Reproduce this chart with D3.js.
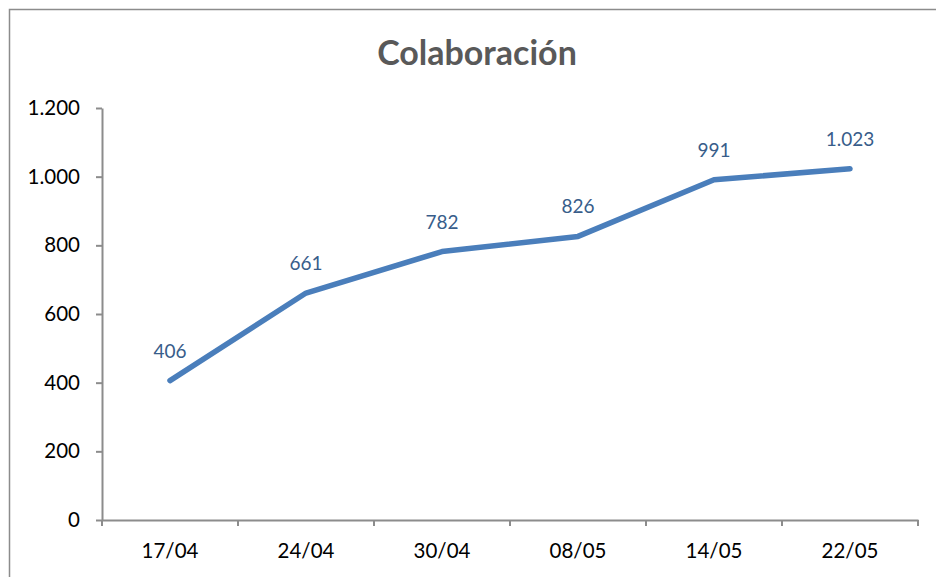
<!DOCTYPE html>
<html>
<head>
<meta charset="utf-8">
<script src="https://cdn.jsdelivr.net/npm/d3@7"></script>
<style>
  body { margin: 0; background: #fff; }
  svg { display: block; font-family: Lato, "Open Sans", sans-serif; }
</style>
</head>
<body>
<div id="chart"></div>
<script>
// Colaboración line chart
const categories = ["17/04", "24/04", "30/04", "08/05", "14/05", "22/05"];
const values = [406, 661, 782, 826, 991, 1023];
const yTicks = [0, 200, 400, 600, 800, 1000, 1200];

const width = 936, height = 577;
const margin = {top: 108, right: 18, bottom: 57, left: 102};

const fmt = d3.formatLocale({decimal: ",", thousands: ".", grouping: [3], currency: ["", "€"]}).format(",d");

const svg = d3.select("#chart").append("svg")
  .attr("width", width)
  .attr("height", height);

// outer frame
svg.append("rect")
  .attr("x", 9.5).attr("y", 9.5)
  .attr("width", 1000).attr("height", 1000)
  .attr("fill", "none")
  .attr("stroke", "#8c8c8c")
  .attr("stroke-width", 1.5);

const x = d3.scaleBand()
  .domain(categories)
  .range([margin.left, width - margin.right]);

const y = d3.scaleLinear()
  .domain([0, 1200])
  .range([height - margin.bottom, margin.top]);

// title
svg.append("text")
  .attr("x", 477).attr("y", 65)
  .attr("text-anchor", "middle")
  .attr("font-size", 34)
  .attr("font-weight", "bold")
  .attr("fill", "#595959")
  .text("Colaboración");

// y axis
const yAxis = svg.append("g")
  .attr("transform", `translate(${margin.left},0)`)
  .call(d3.axisLeft(y).tickValues(yTicks).tickFormat(fmt).tickSize(6).tickSizeOuter(0));

// x axis with ticks on band edges
const xAxis = svg.append("g")
  .attr("transform", `translate(0,${height - margin.bottom})`)
  .call(d3.axisBottom(x).tickSize(0).tickSizeOuter(0));

xAxis.selectAll(".edge")
  .data(categories.concat(["end"]))
  .join("line")
  .attr("class", "edge")
  .attr("x1", (d, i) => i < categories.length ? x(d) : x.range()[1])
  .attr("x2", (d, i) => i < categories.length ? x(d) : x.range()[1])
  .attr("y1", 0).attr("y2", 6)
  .attr("stroke", "#8c8c8c")
  .attr("stroke-width", 2);

for (const ax of [xAxis, yAxis]) {
  ax.select(".domain").attr("stroke", "#8c8c8c").attr("stroke-width", 2);
  ax.selectAll(".tick line").attr("stroke", "#8c8c8c").attr("stroke-width", 2);
  ax.selectAll(".tick text")
    .attr("font-size", 20.5)
    .attr("font-family", "Lato, 'Open Sans', sans-serif")
    .attr("fill", "#000");
}
yAxis.selectAll(".tick text").attr("x", -22);
xAxis.selectAll(".tick text").attr("y", 23);

// line
const cx = d => x(d) + x.bandwidth() / 2;
const line = d3.line()
  .x((d, i) => cx(categories[i]))
  .y(d => y(d));

svg.append("path")
  .datum(values)
  .attr("d", line)
  .attr("fill", "none")
  .attr("stroke", "#4a7ebb")
  .attr("stroke-width", 5.5)
  .attr("stroke-linecap", "round")
  .attr("stroke-linejoin", "round");

// data labels
svg.append("g")
  .selectAll("text")
  .data(values)
  .join("text")
  .attr("x", (d, i) => cx(categories[i]))
  .attr("y", d => y(d) - 23)
  .attr("text-anchor", "middle")
  .attr("font-size", 19)
  .attr("fill", "#385d8a")
  .text(d => fmt(d));
</script>
</body>
</html>
